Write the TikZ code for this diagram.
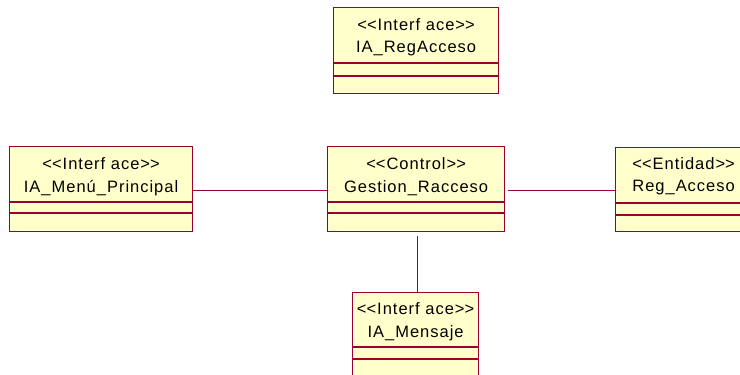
\documentclass[tikz,border=0pt]{standalone}
\usepackage{fontspec}
\newfontfamily\umlfont{Liberation Sans}[LetterSpace=6]
\usetikzlibrary{calc}
\definecolor{umlfill}{HTML}{FFFFCC}
\definecolor{umlline}{HTML}{990033}
\newcommand\lgl{<\kern0pt<}
\newcommand\rgl{>\kern0pt>}
\tikzset{
  classbox/.style={draw=umlline, fill=umlfill, line width=1.2pt, rectangle, inner sep=0pt, anchor=north west},
  umltext/.style={font=\umlfont\fontsize{16.5}{19}\selectfont, inner sep=0pt, text=black},
  divider/.style={draw=umlline, line width=1.1pt},
  assoc/.style={draw=umlline, line width=1pt},
}
\begin{document}
\begin{tikzpicture}[x=1pt,y=-1pt]
\clip (0,0) rectangle (740,375);
\fill[white] (0,0) rectangle (740,375);

% IA_RegAcceso
\node[classbox, minimum width=165pt, minimum height=86pt] (ra) at (333,7) {};
\node[umltext] (ra-s) at ($(ra.north)+(0,18)$) {\lgl Interf ace\rgl};
\node[umltext] (ra-n) at ($(ra.north)+(0,42)$) {IA\_RegAcceso};
\draw[divider] ($(ra.north west)+(0,56)$) -- ($(ra.north east)+(0,56)$);
\draw[divider] ($(ra.north west)+(0,69)$) -- ($(ra.north east)+(0,69)$);

% IA_Menu_Principal
\node[classbox, minimum width=183pt, minimum height=85pt] (menu) at (9,146) {};
\node[umltext] (menu-s) at ($(menu.north)+(0,18)$) {\lgl Interf ace\rgl};
\node[umltext] (menu-n) at ($(menu.north)+(0,42)$) {IA\_Menú\_Principal};
\draw[divider] ($(menu.north west)+(0,56)$) -- ($(menu.north east)+(0,56)$);
\draw[divider] ($(menu.north west)+(0,67)$) -- ($(menu.north east)+(0,67)$);

% Gestion_Racceso
\node[classbox, minimum width=177pt, minimum height=85pt] (gest) at (327,146) {};
\node[umltext] (gest-s) at ($(gest.north)+(0,18)$) {\lgl Control\rgl};
\node[umltext] (gest-n) at ($(gest.north)+(0,42)$) {Gestion\_Racceso};
\draw[divider] ($(gest.north west)+(0,56)$) -- ($(gest.north east)+(0,56)$);
\draw[divider] ($(gest.north west)+(0,67)$) -- ($(gest.north east)+(0,67)$);

% Reg_Acceso
\node[classbox, minimum width=136pt, minimum height=84pt] (reg) at (615,147) {};
\node[umltext] (reg-s) at ($(reg.north)+(0,17)$) {\lgl Entidad\rgl};
\node[umltext] (reg-n) at ($(reg.north)+(0,41)$) {Reg\_Acceso};
\draw[divider] ($(reg.north west)+(0,56)$) -- ($(reg.north east)+(0,56)$);
\draw[divider] ($(reg.north west)+(0,68)$) -- ($(reg.north east)+(0,68)$);

% IA_Mensaje
\node[classbox, minimum width=126pt, minimum height=86pt] (msg) at (352,292) {};
\node[umltext] (msg-s) at ($(msg.north)+(0,17)$) {\lgl Interf ace\rgl};
\node[umltext] (msg-n) at ($(msg.north)+(0,41)$) {IA\_Mensaje};
\draw[divider] ($(msg.north west)+(0,55)$) -- ($(msg.north east)+(0,55)$);
\draw[divider] ($(msg.north west)+(0,67)$) -- ($(msg.north east)+(0,67)$);

% associations
\draw[assoc] ([yshift=-1.5pt]menu.east) -- ([yshift=-1.5pt]gest.west);
\draw[assoc] ([xshift=3pt,yshift=-1.5pt]gest.east) -- ([yshift=-1.5pt]gest.east -| reg.west);
\draw[assoc] ([xshift=1.5pt,yshift=-4pt]gest.south) -- ([xshift=1.5pt]gest.south |- msg.north);
\end{tikzpicture}
\end{document}
